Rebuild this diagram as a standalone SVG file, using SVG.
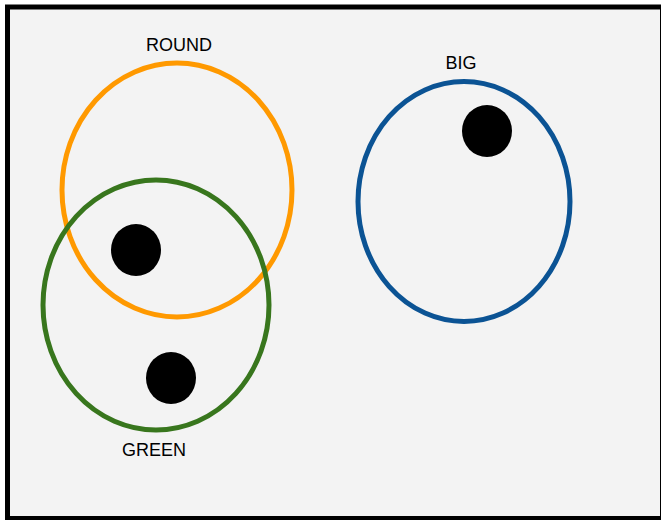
<svg xmlns="http://www.w3.org/2000/svg" width="661" height="520" viewBox="0 0 661 520">
<style>
.lbl{font-family:"Liberation Sans",Arial,sans-serif;font-size:18px;fill:#000;text-anchor:middle}
.set{fill:none;stroke-width:5}
.dot{fill:#000}
</style>
<rect x="7.5" y="7" width="655" height="511.5" fill="#f3f3f3" stroke="#000" stroke-width="5"/>
<g id="round">
<ellipse class="set" cx="177" cy="190" rx="115" ry="127" stroke="#ff9900"/>
<text class="lbl" x="179" y="51">ROUND</text>
</g>
<g id="green">
<ellipse class="set" cx="156" cy="305" rx="113" ry="125" stroke="#38761d"/>
<text class="lbl" x="154" y="456">GREEN</text>
</g>
<g id="big">
<ellipse class="set" cx="464" cy="201.5" rx="106" ry="120" stroke="#0b5394"/>
<text class="lbl" x="461" y="69">BIG</text>
</g>
<g id="dot1"><ellipse class="dot" cx="487" cy="131" rx="25" ry="26"/></g>
<g id="dot2"><ellipse class="dot" cx="136" cy="250" rx="25" ry="26"/></g>
<g id="dot3"><ellipse class="dot" cx="171" cy="378" rx="25" ry="26"/></g>
<g id="connectors"></g>
</svg>
